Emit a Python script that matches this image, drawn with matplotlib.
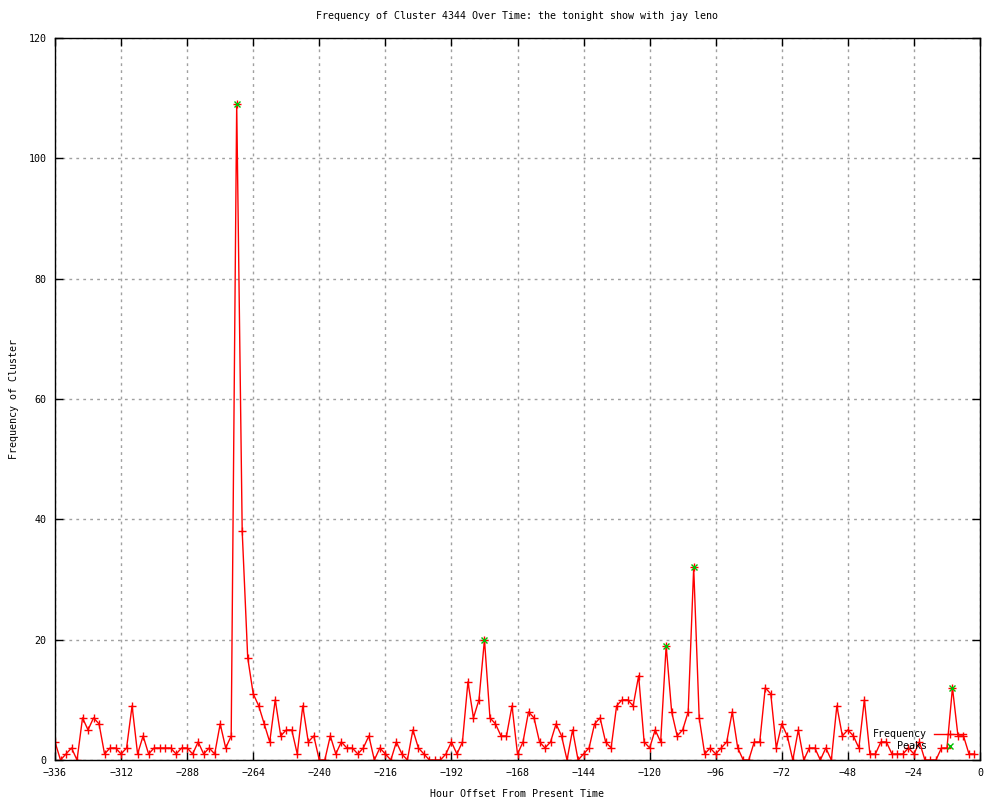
import numpy as np
import matplotlib
matplotlib.use("Agg")
import matplotlib.pyplot as plt

# hourly offsets, one sample every 2 hours
hours = np.arange(-336, 0, 2)
freq = [3, 0, 1, 2, 0, 7, 5, 7, 6, 1,
        2, 2, 1, 2, 9, 1, 4, 1, 2, 2,
        2, 2, 1, 2, 2, 1, 3, 1, 2, 1,
        6, 2, 4, 109, 38, 17, 11, 9, 6, 3,
        10, 4, 5, 5, 1, 9, 3, 4, 0, 0,
        4, 1, 3, 2, 2, 1, 2, 4, 0, 2,
        1, 0, 3, 1, 0, 5, 2, 1, 0, 0,
        0, 1, 3, 1, 3, 13, 7, 10, 20, 7,
        6, 4, 4, 9, 1, 3, 8, 7, 3, 2,
        3, 6, 4, 0, 5, 0, 1, 2, 6, 7,
        3, 2, 9, 10, 10, 9, 14, 3, 2, 5,
        3, 19, 8, 4, 5, 8, 32, 7, 1, 2,
        1, 2, 3, 8, 2, 0, 0, 3, 3, 12,
        11, 2, 6, 4, 0, 5, 0, 2, 2, 0,
        2, 0, 9, 4, 5, 4, 2, 10, 1, 1,
        3, 3, 1, 1, 1, 2, 1, 3, 0, 0,
        0, 2, 2, 12, 4, 4, 1, 1]

peak_hours = [-270, -180, -114, -104, -10]
peak_vals = [109, 20, 19, 32, 12]

xticks = np.arange(-336, 1, 24)
yticks = np.arange(0, 121, 20)

mono = "DejaVu Sans Mono"
fs = 7.2

fig = plt.figure(figsize=(10, 8), dpi=100)
ax = fig.add_axes([0.055, 0.05, 0.925, 0.9025])

ax.plot(hours, freq, color="red", lw=1, marker="+", ms=6, mew=1,
        label="Frequency")
ax.plot(peak_hours, peak_vals, ls="none", color="#00c000", marker="x",
        ms=5, mew=1, label="Peaks")

ax.set_xlim(-336, 0)
ax.set_ylim(0, 120)
ax.set_xticks(xticks)
ax.set_yticks(yticks)
ax.grid(True, color="#a0a0a0", ls=(0, (2, 3)), lw=1)
ax.tick_params(direction="in", length=6, width=1, top=True, right=True,
               labelsize=fs, pad=6)
for lab in ax.get_xticklabels() + ax.get_yticklabels():
    lab.set_family(mono)
for s in ax.spines.values():
    s.set_linewidth(1)

ax.set_title("Frequency of Cluster 4344 Over Time: the tonight show with jay leno",
             family=mono, fontsize=fs, pad=14)
ax.set_xlabel("Hour Offset From Present Time", family=mono, fontsize=fs,
              labelpad=8)
ax.set_ylabel("Frequency of Cluster", family=mono, fontsize=fs, labelpad=7)

ax.legend(loc="lower right", bbox_to_anchor=(0.99, 0.005), frameon=False,
          markerfirst=False, prop={"family": mono, "size": fs},
          handlelength=3.2, handletextpad=0.7, labelspacing=0.2,
          borderpad=0)

fig.savefig("out.png", dpi=100)
